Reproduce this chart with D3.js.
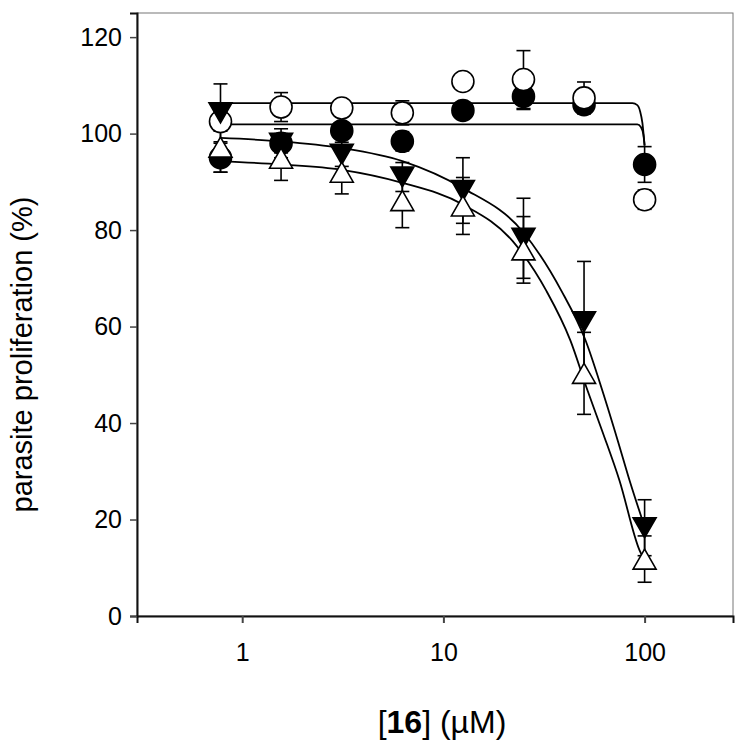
<!DOCTYPE html>
<html>
<head>
<meta charset="utf-8">
<script src="https://cdn.jsdelivr.net/npm/d3@7"></script>
<style>
  html, body { margin: 0; padding: 0; background: #fff; }
  svg { display: block; font-family: Arial, "Liberation Sans", Helvetica, sans-serif; }
</style>
</head>
<body>
<svg id="chart" width="748" height="744"></svg>
<script>
// ---------- data ----------
const concentrations = [0.78, 1.56, 3.125, 6.25, 12.5, 25, 50, 100];

const openCircle      = [102.5, 105.5, 105.3, 104.3, 110.8, 111.2, 107.4, 86.3];
const openCircleErr   = [2, 3, 1.5, 2.5, 1, 6, 3.3, 2];
const filledCircle    = [95, 98, 100.6, 98.4, 104.8, 107.7, 106, 93.6];
const filledCircleErr = [3, 2, 1.5, 2, 1, 2.7, 1, 3.7];
const filledTri       = [104.3, 98, 95.7, 91, 88.2, 78.3, 61, 18.3];
const filledTriErr    = [6, 3, 2.5, 3, 6.8, 8.3, 12.5, 5.8];
const openTri         = [97.2, 94.9, 92, 86.1, 85, 75.9, 50.3, 11.8];
const openTriErr      = [5.2, 4.6, 4.5, 5.6, 5.9, 6.9, 8.5, 4.8];

// fitted curves as [concentration, value]
const openCircleFit   = [[0.78,106.3],[87,106.3],[92,105.9],[95,104.6],[97.5,102.2],[100,97.5]];
const filledCircleFit = [[0.78,101.9],[92,101.9],[96,101.3],[98.5,99.9],[100,97.5]];
const filledTriFit    = [[0.78,99.1],[1.56,98.4],[3.125,97.0],[6.25,94.3],[12.5,88.7],[25,79.5],[38.6,67.4],[50.9,57.1],[61.7,46.7],[73.5,36.4],[84.2,28.1],[100,18.5]];
const openTriFit      = [[0.78,94.3],[1.56,93.6],[3.125,92.5],[6.25,89.8],[12.5,85.3],[22.1,77.7],[32.5,67.4],[42.8,57.1],[52.1,46.7],[62,38],[75,28.1],[94.4,13.6],[100,11.5]];

const xTicks = [1, 10, 100];
const yTicks = [0, 20, 40, 60, 80, 100, 120];

// ---------- layout ----------
const svg = d3.select("#chart");
const mLeft = 137, mTop = 13, mRight = 733, mBottom = 616;

const x = d3.scaleLog().domain([0.3, 275]).range([mLeft, mRight]);
const y = d3.scaleLinear().domain([0, 125]).range([mBottom, mTop]);

// frame (top & right thin grey)
svg.append("rect")
  .attr("x", mLeft).attr("y", mTop)
  .attr("width", mRight - mLeft).attr("height", mBottom - mTop)
  .attr("fill", "none").attr("stroke", "#777").attr("stroke-width", 1);

// axes
const xAxis = d3.axisBottom(x).tickValues(xTicks).tickFormat(d3.format("d")).tickSizeOuter(0).tickSize(7).tickPadding(20);
const gx = svg.append("g").attr("transform", `translate(0,${mBottom})`).call(xAxis);
gx.select(".domain").attr("stroke", "#111").attr("stroke-width", 2);
gx.selectAll(".tick line").attr("stroke", "#444").attr("stroke-width", 2);
gx.selectAll(".tick text").attr("font-size", 25).attr("fill", "#000")
  .attr("font-family", "Arial, 'Liberation Sans', sans-serif");

const yAxis = d3.axisLeft(y).tickValues(yTicks).tickSizeOuter(0).tickSize(7).tickPadding(8);
const gy = svg.append("g").attr("transform", `translate(${mLeft},0)`).call(yAxis);
gy.select(".domain").attr("stroke", "#111").attr("stroke-width", 2);
gy.selectAll(".tick line").attr("stroke", "#444").attr("stroke-width", 1.5);
gy.selectAll(".tick text").attr("font-size", 25).attr("fill", "#000")
  .attr("font-family", "Arial, 'Liberation Sans', sans-serif");

// axis titles
svg.append("text")
  .attr("transform", `translate(32,${(mTop + mBottom) / 2 + 40}) rotate(-90)`)
  .attr("text-anchor", "middle")
  .attr("font-size", 29)
  .text("parasite proliferation (%)");

const xt = svg.append("text")
  .attr("x", 442).attr("y", 733)
  .attr("text-anchor", "middle")
  .attr("font-size", 32);
xt.append("tspan").text("[");
xt.append("tspan").attr("font-weight", "bold").text("16");
xt.append("tspan").text("] (µM)");

// fit lines
const line = d3.line().x(d => x(d[0])).y(d => y(d[1])).curve(d3.curveMonotoneX);
[openCircleFit, filledCircleFit, filledTriFit, openTriFit].forEach(pts => {
  svg.append("path").attr("d", line(pts))
    .attr("fill", "none").attr("stroke", "#000").attr("stroke-width", 1.8);
});

// series definitions
const series = [
  { vals: filledCircle, err: filledCircleErr, shape: "circle", fill: "#000" },
  { vals: openCircle,   err: openCircleErr,   shape: "circle", fill: "#fff" },
  { vals: filledTri,    err: filledTriErr,    shape: "down",   fill: "#000" },
  { vals: openTri,      err: openTriErr,      shape: "up",     fill: "#fff" }
];

// error bars
const capW = 7;
series.forEach(s => {
  const g = svg.append("g").attr("stroke", "#000").attr("stroke-width", 1.6);
  concentrations.forEach((c, i) => {
    const cx = x(c), y1 = y(s.vals[i] + s.err[i]), y2 = y(s.vals[i] - s.err[i]);
    g.append("line").attr("x1", cx).attr("x2", cx).attr("y1", y1).attr("y2", y2);
    g.append("line").attr("x1", cx - capW).attr("x2", cx + capW).attr("y1", y1).attr("y2", y1);
    g.append("line").attr("x1", cx - capW).attr("x2", cx + capW).attr("y1", y2).attr("y2", y2);
  });
});

// markers
const R = 11, TW = 11.5, TH = 10;
series.forEach(s => {
  const g = svg.append("g");
  concentrations.forEach((c, i) => {
    const cx = x(c), cy = y(s.vals[i]);
    if (s.shape === "circle") {
      g.append("circle").attr("cx", cx).attr("cy", cy).attr("r", R)
        .attr("fill", s.fill).attr("stroke", "#000").attr("stroke-width", 1.6);
    } else {
      const p = s.shape === "down"
        ? `M${cx - TW},${cy - TH}L${cx + TW},${cy - TH}L${cx},${cy + TH}Z`
        : `M${cx - TW},${cy + TH}L${cx + TW},${cy + TH}L${cx},${cy - TH}Z`;
      g.append("path").attr("d", p)
        .attr("fill", s.fill).attr("stroke", "#000").attr("stroke-width", 1.6)
        .attr("stroke-linejoin", "miter");
    }
  });
});
</script>
</body>
</html>
